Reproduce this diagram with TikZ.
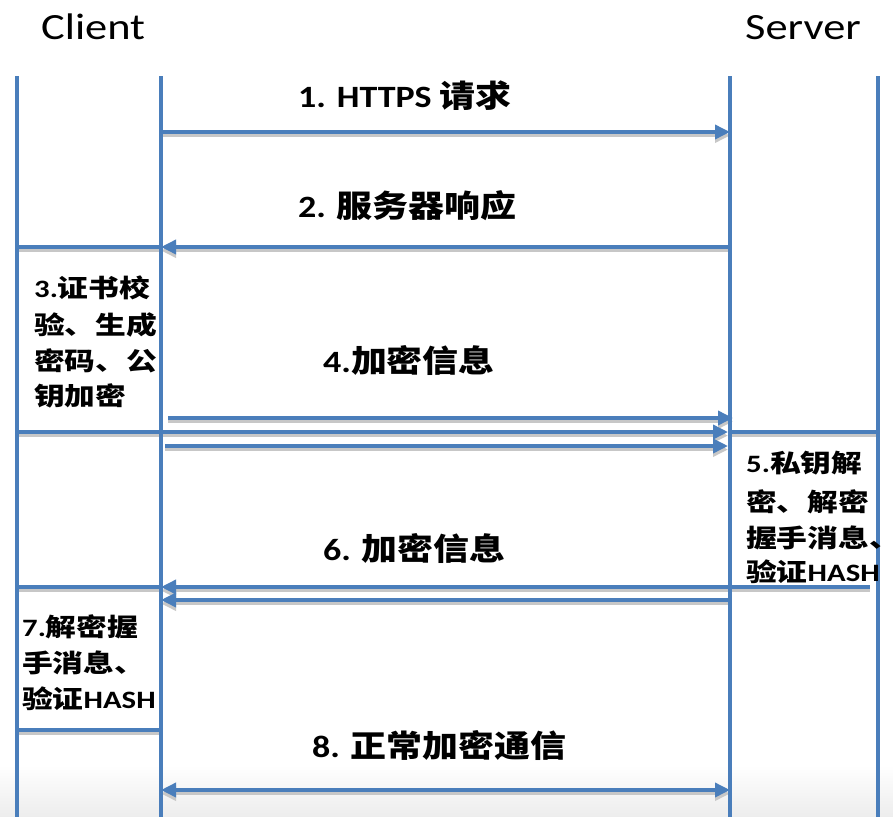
\documentclass[tikz,border=0pt]{standalone}
\usepackage{fontspec}
\usepackage{graphicx}
\setmainfont{Carlito}
\newfontfamily\cjk{Noto Sans CJK SC}
\usetikzlibrary{arrows.meta}
\definecolor{lineblue}{RGB}{74,126,187}
\newcommand\xs[1]{\scalebox{1.16}[1]{#1}}
\newcommand\xt[1]{\scalebox{1.2}[1]{#1}}
\newcommand\xb[1]{\scalebox{1.23}[1]{#1}}
\newcommand\zh[1]{{\cjk #1}}
\begin{document}
\begin{tikzpicture}[x=1pt,y=-1pt,
  life/.style={draw=lineblue, line width=3.5pt},
  edge/.style={draw=lineblue, line width=3.5pt,
    preaction={draw=black!22, line width=3.5pt, transform canvas={yshift=-3.5pt}}},
  msg/.style={edge, -{Triangle[length=15pt,width=14pt]}},
  both/.style={edge, {Triangle[length=15pt,width=14pt]}-{Triangle[length=15pt,width=14pt]}},
  title/.style={font=\fontsize{37}{40}\selectfont, anchor=base west, inner sep=0pt},
  msglabel/.style={font=\fontsize{31}{36}\selectfont\bfseries, anchor=base west, inner sep=0pt},
  boxtxt/.style={font=\fontsize{25}{36}\selectfont\bfseries, anchor=base west, inner sep=0pt},
]
\useasboundingbox (0,0) rectangle (893,816);
\shade[top color=white, bottom color=black!7] (0,765) rectangle (893,816);

% lifeline ends
\coordinate (L1t) at (17,76);  \coordinate (L1b) at (17,822);
\coordinate (L2t) at (161,76); \coordinate (L2b) at (161,822);
\coordinate (L3t) at (730,76); \coordinate (L3b) at (730,822);
\coordinate (L4t) at (878,76); \coordinate (L4b) at (878,822);
% row heights
\coordinate (y1) at (0,132);
\coordinate (y2) at (0,247);
\coordinate (y4b) at (0,432);
\coordinate (y6a) at (0,587);
\coordinate (y7b) at (0,730);
\coordinate (y8) at (0,790);
% special ends
\coordinate (s4a) at (168,418); \coordinate (e4a) at (733,418);
\coordinate (e4b) at (728,432);
\coordinate (s4c) at (165,446); \coordinate (e4c) at (728,446);
\coordinate (r5e) at (870,587);
\coordinate (s6b) at (728,600); \coordinate (e6b) at (161,600);

% boxes
\draw[edge] (L1t |- y2) -- (L2t |- y2);
\draw[edge] (L1t |- y4b) -- (L2t |- y4b);
\draw[edge] (L3t |- y4b) -- (L4t |- y4b);
\draw[edge] (L3t |- y6a) -- (r5e);
\draw[edge] (L1t |- y6a) -- (L2t |- y6a);
\draw[edge] (L1t |- y7b) -- (L2t |- y7b);

% messages
\draw[msg] (L2t |- y1) -- (L3t |- y1);
\draw[msg] (L3t |- y2) -- (L2t |- y2);
\draw[msg] (s4a) -- (e4a);
\draw[msg] (L2t |- y4b) -- (e4b);
\draw[msg] (s4c) -- (e4c);
\draw[msg] (L3t |- y6a) -- (L2t |- y6a);
\draw[msg] (s6b) -- (e6b);
\draw[both] (L2t |- y8) -- (L3t |- y8);

% lifelines
\draw[life] (L1t) -- (L1b);
\draw[life] (L2t) -- (L2b);
\draw[life] (L3t) -- (L3b);
\draw[life] (L4t) -- (L4b);

% titles
\node[title] (client) at (41,40) {\xt{Client}};
\node[title] (server) at (745,40) {\xt{Server}};

% message labels
\node[msglabel] (m1) at (298,107) {\xs{1. HTTPS \zh{请求}}};
\node[msglabel] (m2) at (298,217) {\xs{2. \zh{服务器响应}}};
\node[msglabel] (m4) at (323,372) {\xs{4.\zh{加密信息}}};
\node[msglabel] (m6) at (323,560) {\xs{6. \zh{加密信息}}};
\node[msglabel] (m8) at (312,757) {\xs{8. \zh{正常加密通信}}};

% box texts
\node[boxtxt] (b3a) at (34,297) {\xb{3.\zh{证书校}}};
\node[boxtxt] (b3b) at (34,334) {\xb{\zh{验、生成}}};
\node[boxtxt] (b3c) at (34,370) {\xb{\zh{密码、公}}};
\node[boxtxt] (b3d) at (34,405) {\xb{\zh{钥加密}}};

\node[boxtxt] (b5a) at (746,472) {\xb{5.\zh{私钥解}}};
\node[boxtxt] (b5b) at (746,511) {\xb{\zh{密、解密}}};
\node[boxtxt] (b5c) at (746,547) {\xb{\zh{握手消息、}}};
\node[boxtxt] (b5d) at (746,581) {\xb{\zh{验证}HASH}};

\node[boxtxt] (b7a) at (22,636) {\xb{7.\zh{解密握}}};
\node[boxtxt] (b7b) at (22,672) {\xb{\zh{手消息、}}};
\node[boxtxt] (b7c) at (22,708) {\xb{\zh{验证}HASH}};
\end{tikzpicture}
\end{document}
